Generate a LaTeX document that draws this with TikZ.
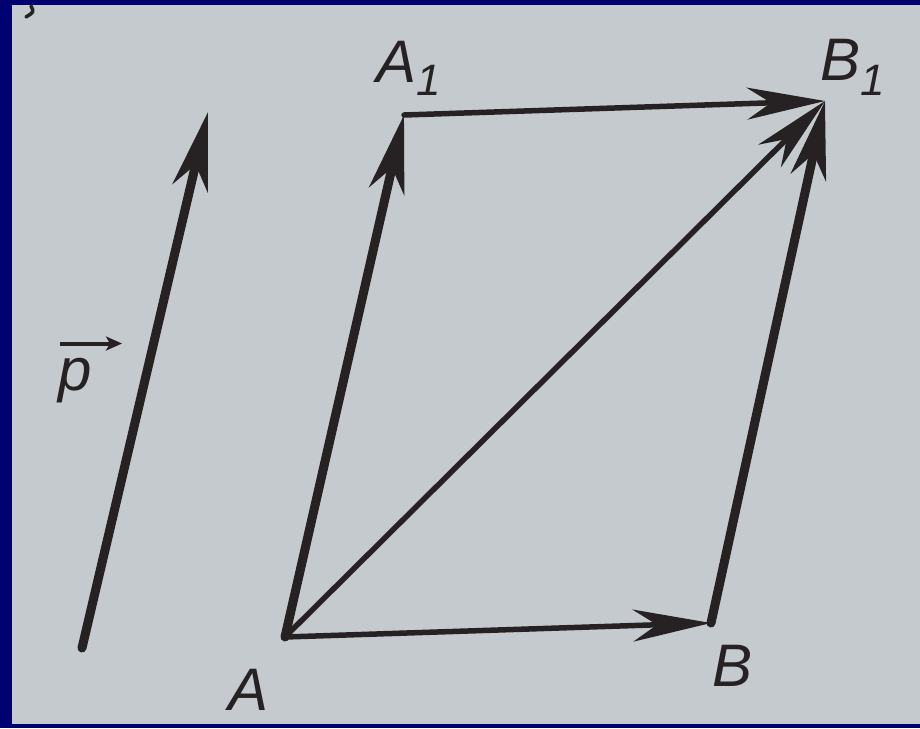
\documentclass[tikz,border=0pt]{standalone}
\usepackage{fontspec}
\setmainfont{Liberation Sans}
\usetikzlibrary{arrows.meta}
\definecolor{paper}{RGB}{197,202,207}
\definecolor{frame}{RGB}{0,0,112}
\definecolor{ink}{RGB}{38,34,36}
\tikzset{
  thickvec/.style={draw=ink, line width=9pt, line cap=round,
    -{Stealth[length=78pt,width=36pt,inset=24pt]}},
  thinvec/.style={draw=ink, line width=5.5pt, line cap=round,
    -{Stealth[length=78pt,width=32pt,inset=24pt]}},
  lbl/.style={font=\fontsize{60}{60}\selectfont\itshape, text=ink, inner sep=0pt}
}
\begin{document}
\begin{tikzpicture}[x=1pt,y=-1pt]
  % background: photo frame and paper
  \fill[frame] (0,0) rectangle (920,728);
  \fill[paper] (12,5) rectangle (920,724);

  % points
  \coordinate (A)  at (285,637);
  \coordinate (B)  at (711,623);
  \coordinate (A1) at (404,115);
  \coordinate (B1) at (825,101);
  \coordinate (P0) at (82,648);
  \coordinate (P1) at (208,112);

  % free vector p
  \draw[thickvec] (P0) -- (P1);

  % parallelogram
  \draw[thickvec] (A) -- (A1);
  \draw[thickvec] (B) -- (B1);
  \draw[thinvec] (A) -- (B);
  \draw[thinvec] (A1) -- (B1);
  \draw[thinvec] (A) -- (B1);

  % labels
  \node[lbl, anchor=base west] (lA)  at (228,710) {A};
  \node[lbl, anchor=base west] (lB)  at (712,686) {B};
  \node[lbl, anchor=base west] (lA1) at (376,82) {A\raisebox{-13pt}{\fontsize{44}{44}\selectfont\itshape 1}};
  \node[lbl, anchor=base west] (lB1) at (820,80) {B\raisebox{-15pt}{\fontsize{44}{44}\selectfont\itshape 1}};
  \node[lbl, anchor=base west] (lp)  at (58,390) {p};
  \coordinate (pa0) at ([xshift=2pt,yshift=14pt]lp.north west);
  \coordinate (pa1) at ([xshift=64pt,yshift=14pt]lp.north west);
  \draw[draw=ink, line width=4pt, -{Stealth[length=16pt,width=14pt,inset=4pt]}] (pa0) -- (pa1);

  % stray mark from the page above (clipped fragment)
  \coordinate (m0) at (31,6);
  \coordinate (m1) at (26,17);
  \draw[ink, line width=3.5pt, line cap=round] (m0) .. controls (34,12) .. (m1);

  \pgfresetboundingbox
  \useasboundingbox (0,0) rectangle (920,728);
\end{tikzpicture}
\end{document}
